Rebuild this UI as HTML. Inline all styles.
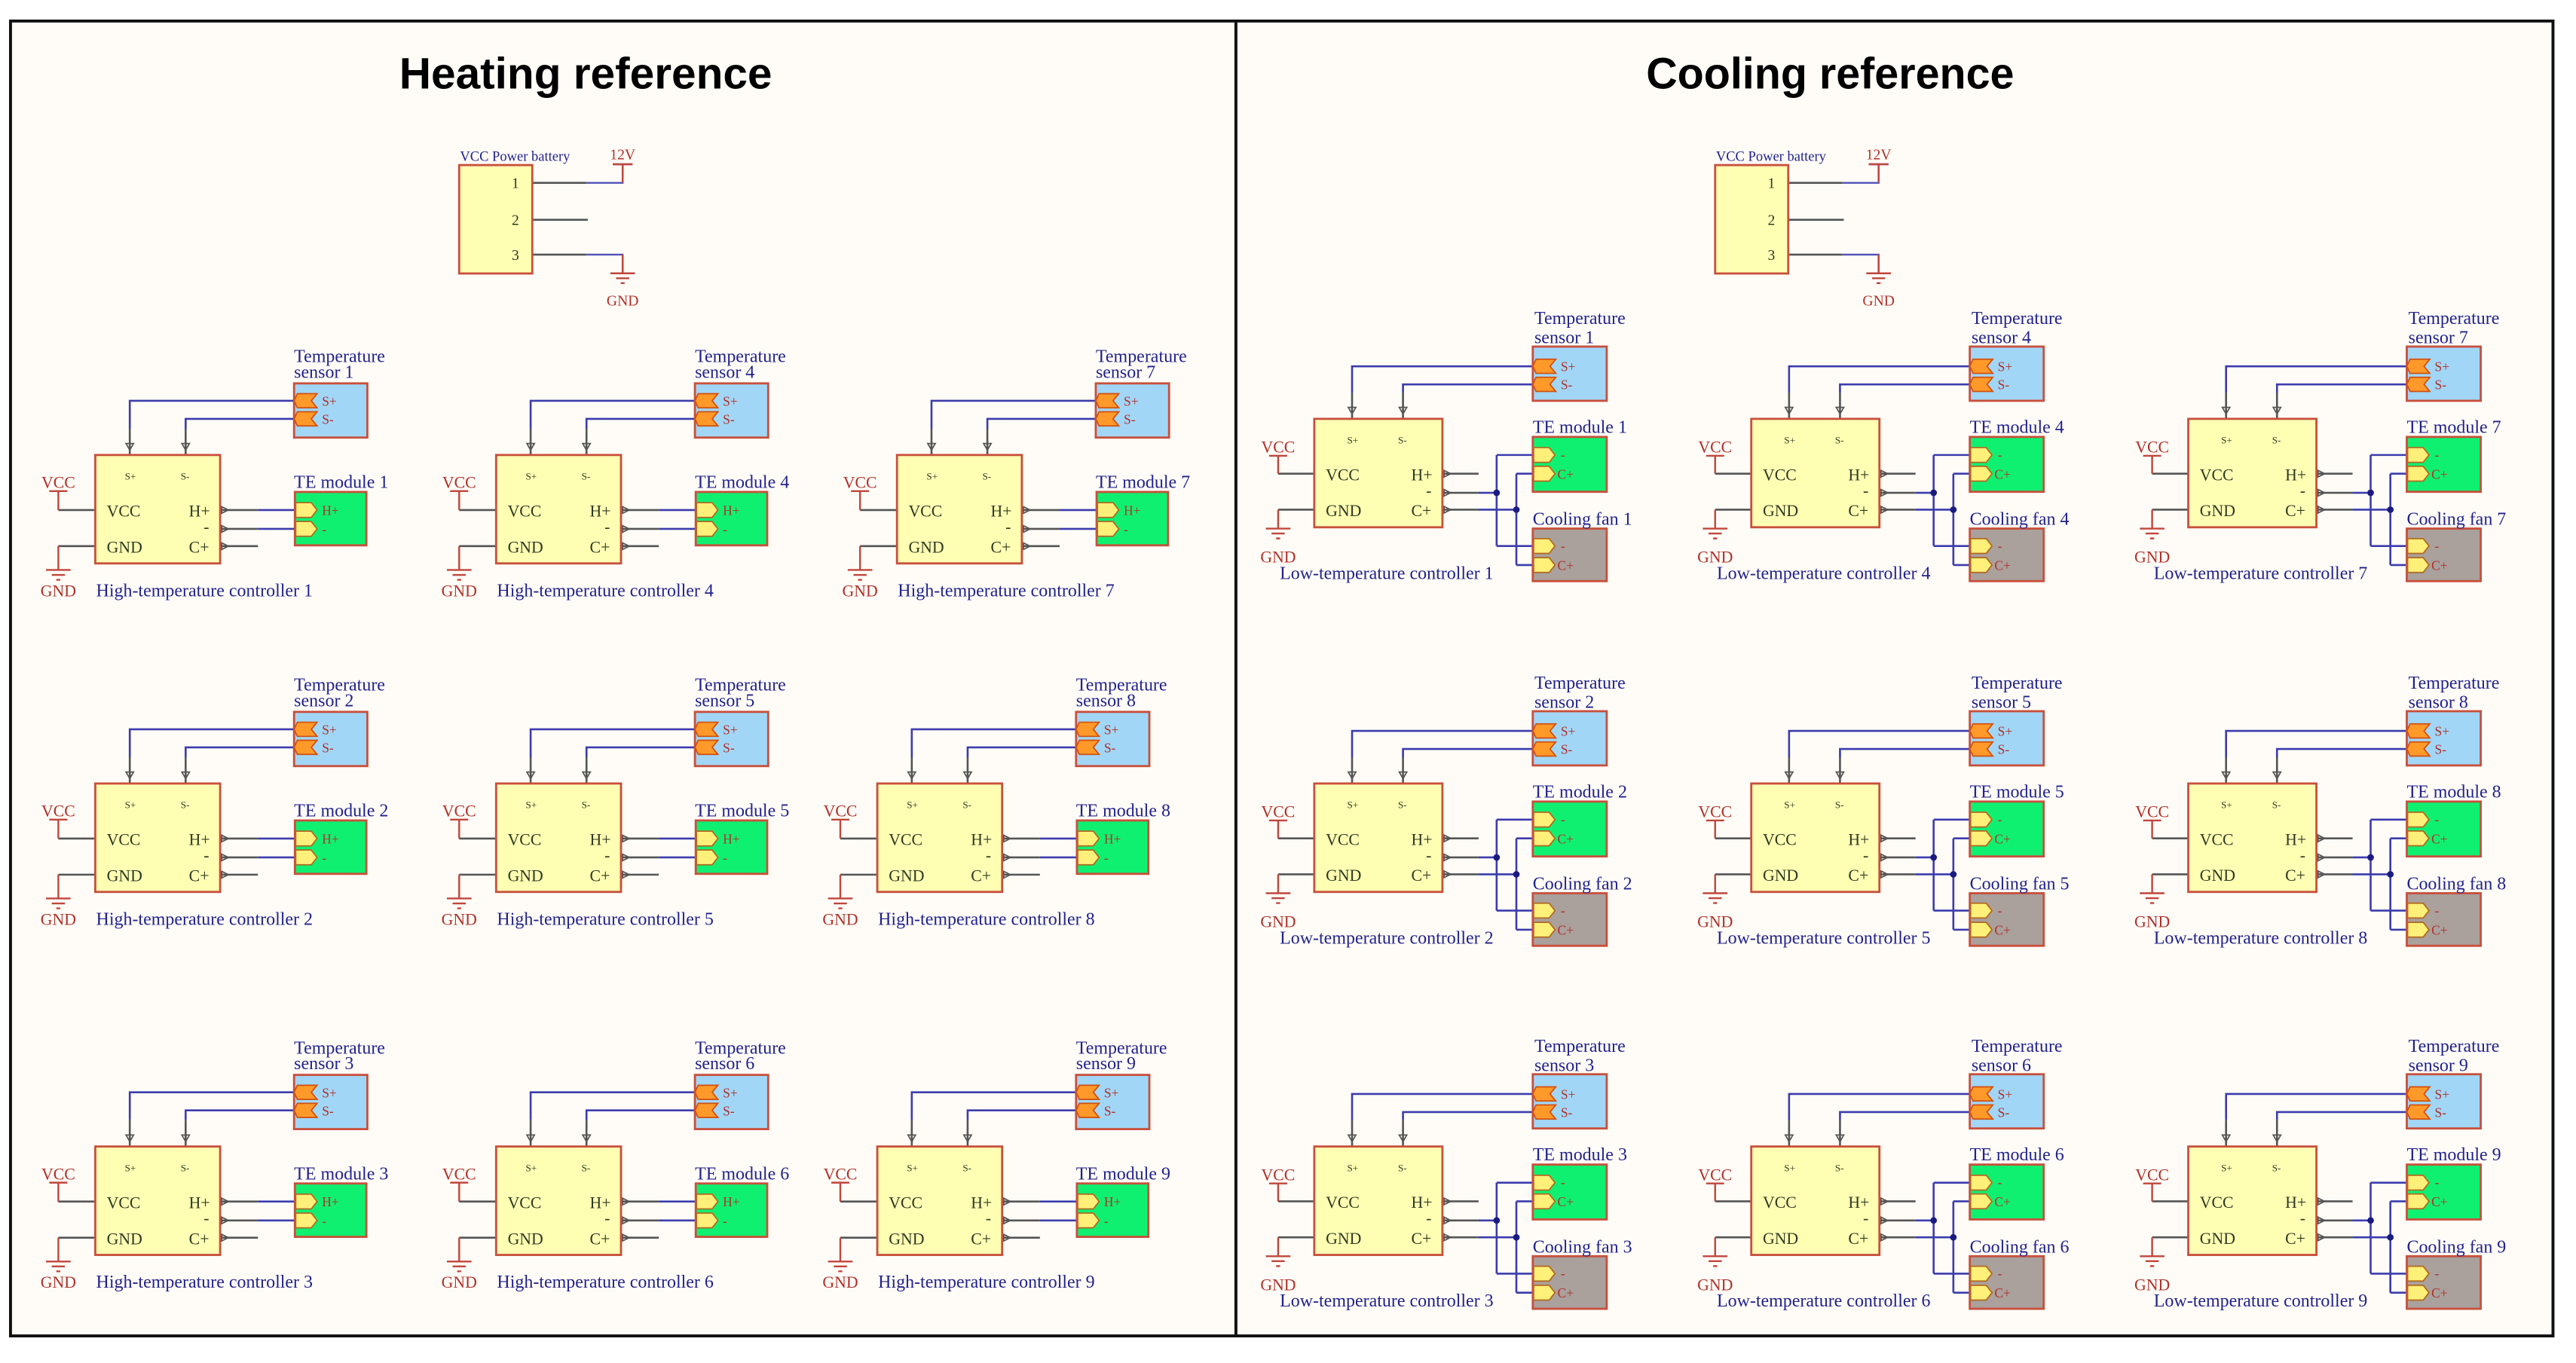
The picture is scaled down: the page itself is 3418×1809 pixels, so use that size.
<!DOCTYPE html>
<html><head><meta charset="utf-8"><style>
html,body{margin:0;padding:0;background:#fff;}
svg{display:block;}
text{font-family:"Liberation Serif",serif;}
.n{fill:#22228c;font-size:11px;}
.r{fill:#b0302a;font-size:10px;}
.k{fill:#2f3a20;font-size:10px;}
.p{fill:#b0302a;font-size:8px;}
.s{fill:#2f3a20;font-size:6px;}
.t{font-family:"Liberation Sans",sans-serif;font-weight:bold;font-size:27px;fill:#000;}
</style></head><body>
<svg width="3418" height="1809" viewBox="0 0 1568 829.8" preserveAspectRatio="none" xmlns="http://www.w3.org/2000/svg">
<defs>
<g id="oc"><path d="M2,-4.3 H14 L10.5,0 L14,4.3 H2 L0,0 Z" fill="#ff9a2a" stroke="#d05010" stroke-width="0.8"/></g>
<g id="yc"><path d="M0.5,-4.5 H10 L13.5,0 L10,4.5 H0.5 Z" fill="#fff07a" stroke="#b06a20" stroke-width="0.8"/></g>
<g id="ar"><path d="M-2.3,-7 L2.3,-7 L0,-3 Z" fill="none" stroke="#555" stroke-width="0.8"/></g>
<g id="rr"><path d="M1,-2 L5,0 L1,2 Z" fill="none" stroke="#555" stroke-width="0.8"/></g>
<g id="gnd" stroke="#c0463c" stroke-width="1.1"><path d="M-7.5,0 H7.5 M-4,3 H4 M-1.2,6 H1.2"/></g>
<g id="hu">
 <path d="M121,-33 H21 V-16 M121,-22 H55 V-16" stroke="#3c3cae" stroke-width="1.2" fill="none"/>
 <path d="M21,-16 V0 M55,-16 V0" stroke="#555" stroke-width="1.2"/>
 <use href="#ar" x="21" y="0"/><use href="#ar" x="55" y="0"/>
 <path d="M76,33.5 H99 M76,45 H99 M76,55.5 H99" stroke="#555" stroke-width="1.2"/>
 <use href="#rr" x="76" y="33.5"/><use href="#rr" x="76" y="45"/><use href="#rr" x="76" y="55.5"/>
 <path d="M99,33.5 H121.5 M99,45 H121.5" stroke="#3c3cae" stroke-width="1.2"/>
 <path d="M0,33.5 H-22.5 M0,55.5 H-22.5" stroke="#555" stroke-width="1.2"/>
 <path d="M-22.5,33.5 V22 M-28,22 H-17 M-22.5,55.5 V70" stroke="#c0463c" stroke-width="1.1" fill="none"/>
 <use href="#gnd" x="-22.5" y="70"/>
 <rect x="0" y="0" width="76" height="66" fill="#ffffb4" stroke="#c8503c" stroke-width="1.3"/>
 <rect x="121" y="-43.6" width="44.6" height="33" fill="#a2d6f6" stroke="#c8503c" stroke-width="1.3"/>
 <use href="#oc" x="121" y="-33"/><use href="#oc" x="121" y="-22"/>
 <rect x="121.5" y="22.5" width="43.5" height="32.5" fill="#10f070" stroke="#c8503c" stroke-width="1.3"/>
 <use href="#yc" x="121.5" y="33.5"/><use href="#yc" x="121.5" y="45"/>
</g>
<g id="cu">
 <path d="M133,-32 H23 V-16 M133,-21 H54 V-16" stroke="#3c3cae" stroke-width="1.2" fill="none"/>
 <path d="M23,-16 V0 M54,-16 V0" stroke="#555" stroke-width="1.2"/>
 <use href="#ar" x="23" y="0"/><use href="#ar" x="54" y="0"/>
 <path d="M78,33.4 H100 M78,45 H100 M78,55.3 H100" stroke="#555" stroke-width="1.2"/>
 <use href="#rr" x="78" y="33.4"/><use href="#rr" x="78" y="45"/><use href="#rr" x="78" y="55.3"/>
 <path d="M100,45 H111 M100,55.3 H123 M111,22 V77.4 M123,33.4 V89 M111,22 H133 M123,33.4 H133 M111,77.4 H133 M123,89 H133" stroke="#3c3cae" stroke-width="1.2" fill="none"/>
 <circle cx="111" cy="45" r="2" fill="#1a1a80"/><circle cx="123" cy="55.3" r="2" fill="#1a1a80"/>
 <path d="M0,33.4 H-22 M0,55.3 H-22" stroke="#555" stroke-width="1.2"/>
 <path d="M-22,33.4 V22.5 M-27.5,22.5 H-16.5 M-22,55.3 V66.8" stroke="#c0463c" stroke-width="1.1" fill="none"/>
 <use href="#gnd" x="-22" y="66.8"/>
 <rect x="0" y="0" width="78" height="66" fill="#ffffb4" stroke="#c8503c" stroke-width="1.3"/>
 <rect x="133" y="-44" width="45" height="33" fill="#a2d6f6" stroke="#c8503c" stroke-width="1.3"/>
 <use href="#oc" x="133" y="-32"/><use href="#oc" x="133" y="-21"/>
 <rect x="133" y="11" width="45" height="33.4" fill="#10f070" stroke="#c8503c" stroke-width="1.3"/>
 <use href="#yc" x="133" y="22"/><use href="#yc" x="133" y="33.4"/>
 <rect x="133" y="66.8" width="45" height="32" fill="#aaa09c" stroke="#c8503c" stroke-width="1.3"/>
 <use href="#yc" x="133" y="77.4"/><use href="#yc" x="133" y="89"/>
</g>
<g id="bat">
 <path d="M324,111.3 H357 M324,133.8 H357.8 M324,155 H357" stroke="#555" stroke-width="1.2"/>
 <path d="M357,111.3 H379 V100 M373,100 H385 M357,155 H379 V166.4" stroke="#5050b8" stroke-width="1.1" fill="none"/>
 <path d="M379,111.3 V100 M373,100 H385 M379,155 V166.4" stroke="#c0463c" stroke-width="1.1" fill="none"/>
 <use href="#gnd" x="379" y="166.4"/>
 <rect x="279.5" y="100.5" width="44.5" height="66" fill="#ffffb4" stroke="#c8503c" stroke-width="1.3"/>
</g>
</defs>

<rect x="6.4" y="12.8" width="1547.6" height="800.5" fill="#fffcf7" stroke="#111" stroke-width="1.8"/>
<line x1="752.3" y1="12.8" x2="752.3" y2="813.3" stroke="#111" stroke-width="1.8"/>

<text class="t" x="243" y="54" textLength="227" lengthAdjust="spacingAndGlyphs">Heating reference</text>
<text class="t" x="1002" y="54" textLength="224" lengthAdjust="spacingAndGlyphs">Cooling reference</text>

<!-- batteries -->
<g>
<use href="#bat"/>
<text class="n" x="280" y="98" style="font-size:8.5px">VCC Power battery</text>
<text class="r" x="379" y="97" text-anchor="middle" style="font-size:9px">12V</text>
<text class="r" x="379" y="186" text-anchor="middle" style="font-size:9px">GND</text>
<text class="k" x="316" y="114.5" text-anchor="end" style="font-size:9px">1</text>
<text class="k" x="316" y="137" text-anchor="end" style="font-size:9px">2</text>
<text class="k" x="316" y="158.2" text-anchor="end" style="font-size:9px">3</text>
</g>
<g transform="translate(764.5,0)">
<use href="#bat"/>
<text class="n" x="280" y="98" style="font-size:8.5px">VCC Power battery</text>
<text class="r" x="379" y="97" text-anchor="middle" style="font-size:9px">12V</text>
<text class="r" x="379" y="186" text-anchor="middle" style="font-size:9px">GND</text>
<text class="k" x="316" y="114.5" text-anchor="end" style="font-size:9px">1</text>
<text class="k" x="316" y="137" text-anchor="end" style="font-size:9px">2</text>
<text class="k" x="316" y="158.2" text-anchor="end" style="font-size:9px">3</text>
</g>

<!-- HEATING UNITS -->
<g transform="translate(58,277)"><use href="#hu"/>
<text class="n" x="121" y="-56.5">Temperature</text><text class="n" x="121" y="-47">sensor 1</text>
<text class="n" x="121" y="20">TE module 1</text>
<text class="r" x="-22.5" y="20" text-anchor="middle">VCC</text><text class="r" x="-22.5" y="86" text-anchor="middle">GND</text>
<text class="n" x="0.5" y="86">High-temperature controller 1</text>
<text class="k" x="7" y="37.5">VCC</text><text class="k" x="7" y="59.5">GND</text><text class="k" x="57" y="37.5">H+</text><text class="k" x="66" y="47">-</text><text class="k" x="57" y="59.5">C+</text>
<text class="s" x="18" y="15">S+</text><text class="s" x="52" y="15">S-</text>
<text class="p" x="138" y="-30">S+</text><text class="p" x="138" y="-19">S-</text>
<text class="p" x="138" y="36.5">H+</text><text class="p" x="138" y="48">-</text>
</g>
<g transform="translate(302,277)"><use href="#hu"/>
<text class="n" x="121" y="-56.5">Temperature</text><text class="n" x="121" y="-47">sensor 4</text>
<text class="n" x="121" y="20">TE module 4</text>
<text class="r" x="-22.5" y="20" text-anchor="middle">VCC</text><text class="r" x="-22.5" y="86" text-anchor="middle">GND</text>
<text class="n" x="0.5" y="86">High-temperature controller 4</text>
<text class="k" x="7" y="37.5">VCC</text><text class="k" x="7" y="59.5">GND</text><text class="k" x="57" y="37.5">H+</text><text class="k" x="66" y="47">-</text><text class="k" x="57" y="59.5">C+</text>
<text class="s" x="18" y="15">S+</text><text class="s" x="52" y="15">S-</text>
<text class="p" x="138" y="-30">S+</text><text class="p" x="138" y="-19">S-</text>
<text class="p" x="138" y="36.5">H+</text><text class="p" x="138" y="48">-</text>
</g>
<g transform="translate(546,277)"><use href="#hu"/>
<text class="n" x="121" y="-56.5">Temperature</text><text class="n" x="121" y="-47">sensor 7</text>
<text class="n" x="121" y="20">TE module 7</text>
<text class="r" x="-22.5" y="20" text-anchor="middle">VCC</text><text class="r" x="-22.5" y="86" text-anchor="middle">GND</text>
<text class="n" x="0.5" y="86">High-temperature controller 7</text>
<text class="k" x="7" y="37.5">VCC</text><text class="k" x="7" y="59.5">GND</text><text class="k" x="57" y="37.5">H+</text><text class="k" x="66" y="47">-</text><text class="k" x="57" y="59.5">C+</text>
<text class="s" x="18" y="15">S+</text><text class="s" x="52" y="15">S-</text>
<text class="p" x="138" y="-30">S+</text><text class="p" x="138" y="-19">S-</text>
<text class="p" x="138" y="36.5">H+</text><text class="p" x="138" y="48">-</text>
</g>
<g transform="translate(58,477)"><use href="#hu"/>
<text class="n" x="121" y="-56.5">Temperature</text><text class="n" x="121" y="-47">sensor 2</text>
<text class="n" x="121" y="20">TE module 2</text>
<text class="r" x="-22.5" y="20" text-anchor="middle">VCC</text><text class="r" x="-22.5" y="86" text-anchor="middle">GND</text>
<text class="n" x="0.5" y="86">High-temperature controller 2</text>
<text class="k" x="7" y="37.5">VCC</text><text class="k" x="7" y="59.5">GND</text><text class="k" x="57" y="37.5">H+</text><text class="k" x="66" y="47">-</text><text class="k" x="57" y="59.5">C+</text>
<text class="s" x="18" y="15">S+</text><text class="s" x="52" y="15">S-</text>
<text class="p" x="138" y="-30">S+</text><text class="p" x="138" y="-19">S-</text>
<text class="p" x="138" y="36.5">H+</text><text class="p" x="138" y="48">-</text>
</g>
<g transform="translate(302,477)"><use href="#hu"/>
<text class="n" x="121" y="-56.5">Temperature</text><text class="n" x="121" y="-47">sensor 5</text>
<text class="n" x="121" y="20">TE module 5</text>
<text class="r" x="-22.5" y="20" text-anchor="middle">VCC</text><text class="r" x="-22.5" y="86" text-anchor="middle">GND</text>
<text class="n" x="0.5" y="86">High-temperature controller 5</text>
<text class="k" x="7" y="37.5">VCC</text><text class="k" x="7" y="59.5">GND</text><text class="k" x="57" y="37.5">H+</text><text class="k" x="66" y="47">-</text><text class="k" x="57" y="59.5">C+</text>
<text class="s" x="18" y="15">S+</text><text class="s" x="52" y="15">S-</text>
<text class="p" x="138" y="-30">S+</text><text class="p" x="138" y="-19">S-</text>
<text class="p" x="138" y="36.5">H+</text><text class="p" x="138" y="48">-</text>
</g>
<g transform="translate(534,477)"><use href="#hu"/>
<text class="n" x="121" y="-56.5">Temperature</text><text class="n" x="121" y="-47">sensor 8</text>
<text class="n" x="121" y="20">TE module 8</text>
<text class="r" x="-22.5" y="20" text-anchor="middle">VCC</text><text class="r" x="-22.5" y="86" text-anchor="middle">GND</text>
<text class="n" x="0.5" y="86">High-temperature controller 8</text>
<text class="k" x="7" y="37.5">VCC</text><text class="k" x="7" y="59.5">GND</text><text class="k" x="57" y="37.5">H+</text><text class="k" x="66" y="47">-</text><text class="k" x="57" y="59.5">C+</text>
<text class="s" x="18" y="15">S+</text><text class="s" x="52" y="15">S-</text>
<text class="p" x="138" y="-30">S+</text><text class="p" x="138" y="-19">S-</text>
<text class="p" x="138" y="36.5">H+</text><text class="p" x="138" y="48">-</text>
</g>
<g transform="translate(58,698)"><use href="#hu"/>
<text class="n" x="121" y="-56.5">Temperature</text><text class="n" x="121" y="-47">sensor 3</text>
<text class="n" x="121" y="20">TE module 3</text>
<text class="r" x="-22.5" y="20" text-anchor="middle">VCC</text><text class="r" x="-22.5" y="86" text-anchor="middle">GND</text>
<text class="n" x="0.5" y="86">High-temperature controller 3</text>
<text class="k" x="7" y="37.5">VCC</text><text class="k" x="7" y="59.5">GND</text><text class="k" x="57" y="37.5">H+</text><text class="k" x="66" y="47">-</text><text class="k" x="57" y="59.5">C+</text>
<text class="s" x="18" y="15">S+</text><text class="s" x="52" y="15">S-</text>
<text class="p" x="138" y="-30">S+</text><text class="p" x="138" y="-19">S-</text>
<text class="p" x="138" y="36.5">H+</text><text class="p" x="138" y="48">-</text>
</g>
<g transform="translate(302,698)"><use href="#hu"/>
<text class="n" x="121" y="-56.5">Temperature</text><text class="n" x="121" y="-47">sensor 6</text>
<text class="n" x="121" y="20">TE module 6</text>
<text class="r" x="-22.5" y="20" text-anchor="middle">VCC</text><text class="r" x="-22.5" y="86" text-anchor="middle">GND</text>
<text class="n" x="0.5" y="86">High-temperature controller 6</text>
<text class="k" x="7" y="37.5">VCC</text><text class="k" x="7" y="59.5">GND</text><text class="k" x="57" y="37.5">H+</text><text class="k" x="66" y="47">-</text><text class="k" x="57" y="59.5">C+</text>
<text class="s" x="18" y="15">S+</text><text class="s" x="52" y="15">S-</text>
<text class="p" x="138" y="-30">S+</text><text class="p" x="138" y="-19">S-</text>
<text class="p" x="138" y="36.5">H+</text><text class="p" x="138" y="48">-</text>
</g>
<g transform="translate(534,698)"><use href="#hu"/>
<text class="n" x="121" y="-56.5">Temperature</text><text class="n" x="121" y="-47">sensor 9</text>
<text class="n" x="121" y="20">TE module 9</text>
<text class="r" x="-22.5" y="20" text-anchor="middle">VCC</text><text class="r" x="-22.5" y="86" text-anchor="middle">GND</text>
<text class="n" x="0.5" y="86">High-temperature controller 9</text>
<text class="k" x="7" y="37.5">VCC</text><text class="k" x="7" y="59.5">GND</text><text class="k" x="57" y="37.5">H+</text><text class="k" x="66" y="47">-</text><text class="k" x="57" y="59.5">C+</text>
<text class="s" x="18" y="15">S+</text><text class="s" x="52" y="15">S-</text>
<text class="p" x="138" y="-30">S+</text><text class="p" x="138" y="-19">S-</text>
<text class="p" x="138" y="36.5">H+</text><text class="p" x="138" y="48">-</text>
</g>

<!-- COOLING UNITS -->
<g transform="translate(800,255)"><use href="#cu"/>
<text class="n" x="134" y="-57.7">Temperature</text><text class="n" x="134" y="-46">sensor 1</text>
<text class="n" x="133" y="8.5">TE module 1</text><text class="n" x="133" y="64.5">Cooling fan 1</text>
<text class="r" x="-22" y="20.5" text-anchor="middle">VCC</text><text class="r" x="-22" y="87.5" text-anchor="middle">GND</text>
<text class="n" x="-21" y="97.5">Low-temperature controller 1</text>
<text class="k" x="7" y="37.4">VCC</text><text class="k" x="7" y="59.3">GND</text><text class="k" x="59" y="37.4">H+</text><text class="k" x="68" y="47">-</text><text class="k" x="59" y="59.3">C+</text>
<text class="s" x="20" y="15">S+</text><text class="s" x="51" y="15">S-</text>
<text class="p" x="150" y="-29">S+</text><text class="p" x="150" y="-18">S-</text>
<text class="p" x="150" y="24.5">-</text><text class="p" x="148" y="36.5">C+</text><text class="p" x="150" y="80">-</text><text class="p" x="148" y="92">C+</text>
</g>
<g transform="translate(1066,255)"><use href="#cu"/>
<text class="n" x="134" y="-57.7">Temperature</text><text class="n" x="134" y="-46">sensor 4</text>
<text class="n" x="133" y="8.5">TE module 4</text><text class="n" x="133" y="64.5">Cooling fan 4</text>
<text class="r" x="-22" y="20.5" text-anchor="middle">VCC</text><text class="r" x="-22" y="87.5" text-anchor="middle">GND</text>
<text class="n" x="-21" y="97.5">Low-temperature controller 4</text>
<text class="k" x="7" y="37.4">VCC</text><text class="k" x="7" y="59.3">GND</text><text class="k" x="59" y="37.4">H+</text><text class="k" x="68" y="47">-</text><text class="k" x="59" y="59.3">C+</text>
<text class="s" x="20" y="15">S+</text><text class="s" x="51" y="15">S-</text>
<text class="p" x="150" y="-29">S+</text><text class="p" x="150" y="-18">S-</text>
<text class="p" x="150" y="24.5">-</text><text class="p" x="148" y="36.5">C+</text><text class="p" x="150" y="80">-</text><text class="p" x="148" y="92">C+</text>
</g>
<g transform="translate(1332,255)"><use href="#cu"/>
<text class="n" x="134" y="-57.7">Temperature</text><text class="n" x="134" y="-46">sensor 7</text>
<text class="n" x="133" y="8.5">TE module 7</text><text class="n" x="133" y="64.5">Cooling fan 7</text>
<text class="r" x="-22" y="20.5" text-anchor="middle">VCC</text><text class="r" x="-22" y="87.5" text-anchor="middle">GND</text>
<text class="n" x="-21" y="97.5">Low-temperature controller 7</text>
<text class="k" x="7" y="37.4">VCC</text><text class="k" x="7" y="59.3">GND</text><text class="k" x="59" y="37.4">H+</text><text class="k" x="68" y="47">-</text><text class="k" x="59" y="59.3">C+</text>
<text class="s" x="20" y="15">S+</text><text class="s" x="51" y="15">S-</text>
<text class="p" x="150" y="-29">S+</text><text class="p" x="150" y="-18">S-</text>
<text class="p" x="150" y="24.5">-</text><text class="p" x="148" y="36.5">C+</text><text class="p" x="150" y="80">-</text><text class="p" x="148" y="92">C+</text>
</g>
<g transform="translate(800,477)"><use href="#cu"/>
<text class="n" x="134" y="-57.7">Temperature</text><text class="n" x="134" y="-46">sensor 2</text>
<text class="n" x="133" y="8.5">TE module 2</text><text class="n" x="133" y="64.5">Cooling fan 2</text>
<text class="r" x="-22" y="20.5" text-anchor="middle">VCC</text><text class="r" x="-22" y="87.5" text-anchor="middle">GND</text>
<text class="n" x="-21" y="97.5">Low-temperature controller 2</text>
<text class="k" x="7" y="37.4">VCC</text><text class="k" x="7" y="59.3">GND</text><text class="k" x="59" y="37.4">H+</text><text class="k" x="68" y="47">-</text><text class="k" x="59" y="59.3">C+</text>
<text class="s" x="20" y="15">S+</text><text class="s" x="51" y="15">S-</text>
<text class="p" x="150" y="-29">S+</text><text class="p" x="150" y="-18">S-</text>
<text class="p" x="150" y="24.5">-</text><text class="p" x="148" y="36.5">C+</text><text class="p" x="150" y="80">-</text><text class="p" x="148" y="92">C+</text>
</g>
<g transform="translate(1066,477)"><use href="#cu"/>
<text class="n" x="134" y="-57.7">Temperature</text><text class="n" x="134" y="-46">sensor 5</text>
<text class="n" x="133" y="8.5">TE module 5</text><text class="n" x="133" y="64.5">Cooling fan 5</text>
<text class="r" x="-22" y="20.5" text-anchor="middle">VCC</text><text class="r" x="-22" y="87.5" text-anchor="middle">GND</text>
<text class="n" x="-21" y="97.5">Low-temperature controller 5</text>
<text class="k" x="7" y="37.4">VCC</text><text class="k" x="7" y="59.3">GND</text><text class="k" x="59" y="37.4">H+</text><text class="k" x="68" y="47">-</text><text class="k" x="59" y="59.3">C+</text>
<text class="s" x="20" y="15">S+</text><text class="s" x="51" y="15">S-</text>
<text class="p" x="150" y="-29">S+</text><text class="p" x="150" y="-18">S-</text>
<text class="p" x="150" y="24.5">-</text><text class="p" x="148" y="36.5">C+</text><text class="p" x="150" y="80">-</text><text class="p" x="148" y="92">C+</text>
</g>
<g transform="translate(1332,477)"><use href="#cu"/>
<text class="n" x="134" y="-57.7">Temperature</text><text class="n" x="134" y="-46">sensor 8</text>
<text class="n" x="133" y="8.5">TE module 8</text><text class="n" x="133" y="64.5">Cooling fan 8</text>
<text class="r" x="-22" y="20.5" text-anchor="middle">VCC</text><text class="r" x="-22" y="87.5" text-anchor="middle">GND</text>
<text class="n" x="-21" y="97.5">Low-temperature controller 8</text>
<text class="k" x="7" y="37.4">VCC</text><text class="k" x="7" y="59.3">GND</text><text class="k" x="59" y="37.4">H+</text><text class="k" x="68" y="47">-</text><text class="k" x="59" y="59.3">C+</text>
<text class="s" x="20" y="15">S+</text><text class="s" x="51" y="15">S-</text>
<text class="p" x="150" y="-29">S+</text><text class="p" x="150" y="-18">S-</text>
<text class="p" x="150" y="24.5">-</text><text class="p" x="148" y="36.5">C+</text><text class="p" x="150" y="80">-</text><text class="p" x="148" y="92">C+</text>
</g>
<g transform="translate(800,698)"><use href="#cu"/>
<text class="n" x="134" y="-57.7">Temperature</text><text class="n" x="134" y="-46">sensor 3</text>
<text class="n" x="133" y="8.5">TE module 3</text><text class="n" x="133" y="64.5">Cooling fan 3</text>
<text class="r" x="-22" y="20.5" text-anchor="middle">VCC</text><text class="r" x="-22" y="87.5" text-anchor="middle">GND</text>
<text class="n" x="-21" y="97.5">Low-temperature controller 3</text>
<text class="k" x="7" y="37.4">VCC</text><text class="k" x="7" y="59.3">GND</text><text class="k" x="59" y="37.4">H+</text><text class="k" x="68" y="47">-</text><text class="k" x="59" y="59.3">C+</text>
<text class="s" x="20" y="15">S+</text><text class="s" x="51" y="15">S-</text>
<text class="p" x="150" y="-29">S+</text><text class="p" x="150" y="-18">S-</text>
<text class="p" x="150" y="24.5">-</text><text class="p" x="148" y="36.5">C+</text><text class="p" x="150" y="80">-</text><text class="p" x="148" y="92">C+</text>
</g>
<g transform="translate(1066,698)"><use href="#cu"/>
<text class="n" x="134" y="-57.7">Temperature</text><text class="n" x="134" y="-46">sensor 6</text>
<text class="n" x="133" y="8.5">TE module 6</text><text class="n" x="133" y="64.5">Cooling fan 6</text>
<text class="r" x="-22" y="20.5" text-anchor="middle">VCC</text><text class="r" x="-22" y="87.5" text-anchor="middle">GND</text>
<text class="n" x="-21" y="97.5">Low-temperature controller 6</text>
<text class="k" x="7" y="37.4">VCC</text><text class="k" x="7" y="59.3">GND</text><text class="k" x="59" y="37.4">H+</text><text class="k" x="68" y="47">-</text><text class="k" x="59" y="59.3">C+</text>
<text class="s" x="20" y="15">S+</text><text class="s" x="51" y="15">S-</text>
<text class="p" x="150" y="-29">S+</text><text class="p" x="150" y="-18">S-</text>
<text class="p" x="150" y="24.5">-</text><text class="p" x="148" y="36.5">C+</text><text class="p" x="150" y="80">-</text><text class="p" x="148" y="92">C+</text>
</g>
<g transform="translate(1332,698)"><use href="#cu"/>
<text class="n" x="134" y="-57.7">Temperature</text><text class="n" x="134" y="-46">sensor 9</text>
<text class="n" x="133" y="8.5">TE module 9</text><text class="n" x="133" y="64.5">Cooling fan 9</text>
<text class="r" x="-22" y="20.5" text-anchor="middle">VCC</text><text class="r" x="-22" y="87.5" text-anchor="middle">GND</text>
<text class="n" x="-21" y="97.5">Low-temperature controller 9</text>
<text class="k" x="7" y="37.4">VCC</text><text class="k" x="7" y="59.3">GND</text><text class="k" x="59" y="37.4">H+</text><text class="k" x="68" y="47">-</text><text class="k" x="59" y="59.3">C+</text>
<text class="s" x="20" y="15">S+</text><text class="s" x="51" y="15">S-</text>
<text class="p" x="150" y="-29">S+</text><text class="p" x="150" y="-18">S-</text>
<text class="p" x="150" y="24.5">-</text><text class="p" x="148" y="36.5">C+</text><text class="p" x="150" y="80">-</text><text class="p" x="148" y="92">C+</text>
</g>
</svg>
</body></html>
